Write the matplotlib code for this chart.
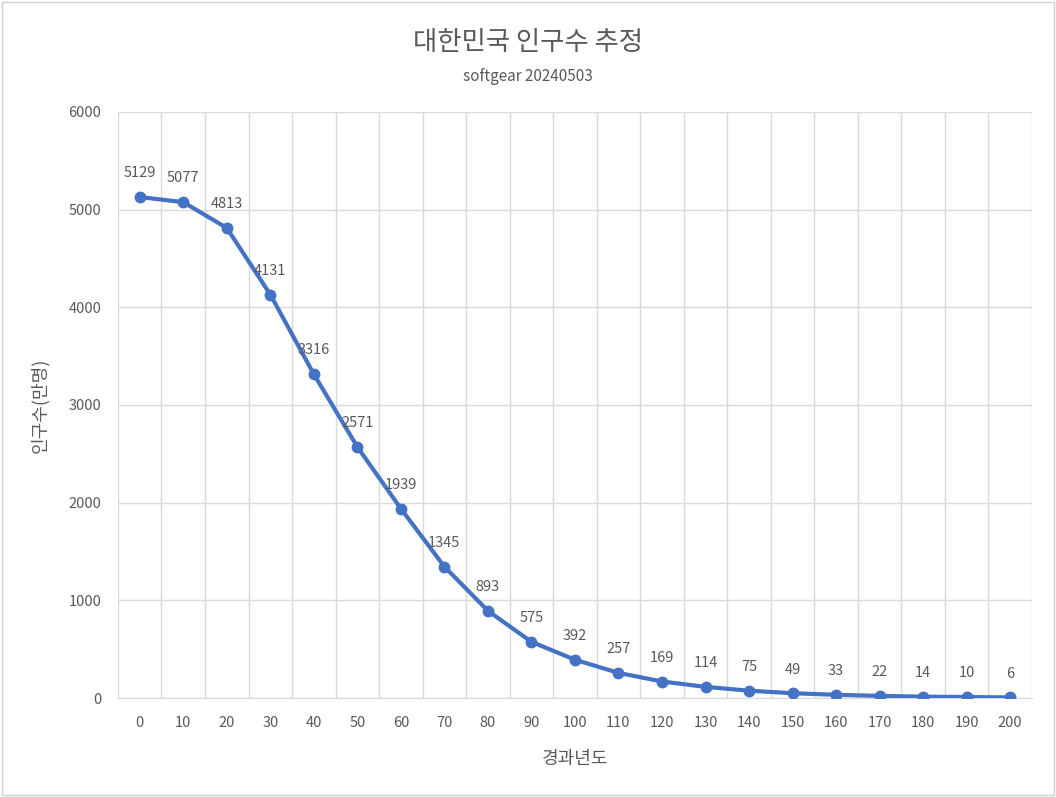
import matplotlib.pyplot as plt
from matplotlib.patches import Rectangle

plt.rcParams['font.family'] = ['Noto Sans CJK KR', 'DejaVu Sans']

years = [0, 10, 20, 30, 40, 50, 60, 70, 80, 90, 100,
         110, 120, 130, 140, 150, 160, 170, 180, 190, 200]
population = [5129, 5077, 4813, 4131, 3316, 2571, 1939, 1345, 893, 575, 392,
              257, 169, 114, 75, 49, 33, 22, 14, 10, 6]

text_color = '#595959'
grid_color = '#D9D9D9'
line_color = '#4472C4'

fig = plt.figure(figsize=(10.56, 7.97), dpi=100)
fig.patches.append(Rectangle((0.002, 0.002), 0.996, 0.996, transform=fig.transFigure,
                             fill=False, edgecolor='#D0D0D0', linewidth=1))
ax = fig.add_axes([0.1117, 0.1242, 0.8655, 0.7353])

x = list(range(len(years)))
ax.plot(x, population, color=line_color, linewidth=3, marker='o', markersize=7.5, zorder=3)

# data labels above each point
for xi, v in zip(x, population):
    ax.annotate(str(v), (xi, v), xytext=(0, 12), textcoords='offset points',
                ha='center', va='bottom', fontsize=10.5, color=text_color)

ax.set_xlim(-0.5, len(years) - 0.5)
ax.set_ylim(0, 6000)
ax.set_yticks(range(0, 6001, 1000))
ax.set_xticks(x)
ax.set_xticklabels([str(y) for y in years])

# vertical gridlines sit between categories like Excel
for k in range(len(years) + 1):
    ax.axvline(k - 0.5, color=grid_color, linewidth=1, zorder=0)
ax.yaxis.grid(True, color=grid_color, linewidth=1, zorder=0)
ax.set_axisbelow(True)

for side in ['top', 'right', 'left']:
    ax.spines[side].set_visible(False)
ax.spines['bottom'].set_color(grid_color)
ax.tick_params(axis='both', length=0, colors=text_color, labelsize=10.5)
ax.tick_params(axis='x', pad=13)
ax.tick_params(axis='y', pad=12)

ax.set_xlabel('경과년도', fontsize=13, color=text_color, labelpad=14)
ax.set_ylabel('인구수(만명)', fontsize=13, color=text_color, labelpad=14)

fig.text(0.5, 0.947, '대한민국 인구수 추정', ha='center', va='center', fontsize=19, color=text_color)
fig.text(0.5, 0.904, 'softgear 20240503', ha='center', va='center', fontsize=11, color=text_color)

fig.savefig('out.png', dpi=100)
